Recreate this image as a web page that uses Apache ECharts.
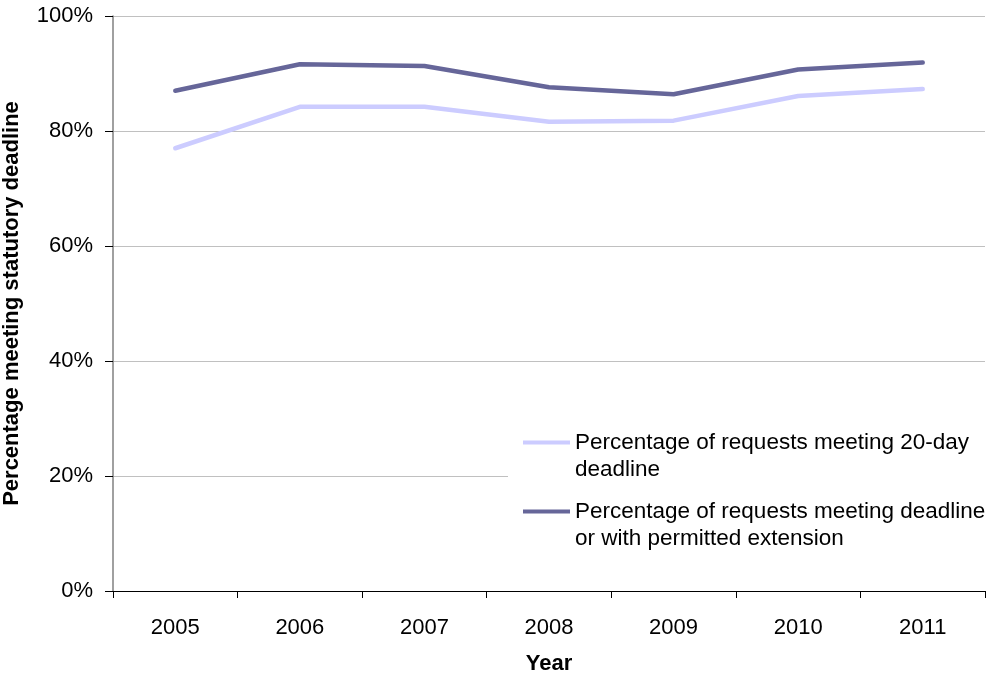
<!DOCTYPE html>
<html>
<head>
<meta charset="utf-8">
<script src="https://cdn.jsdelivr.net/npm/echarts@6/dist/echarts.min.js"></script>
<style>
  html, body { margin: 0; padding: 0; background: #fff; }
  #chart { width: 988px; height: 675px; }
</style>
</head>
<body>
<div id="chart"></div>
<script>
var years = ['2005', '2006', '2007', '2008', '2009', '2010', '2011'];
var met20Day = [77.0, 84.2, 84.2, 81.6, 81.8, 86.1, 87.3];
var metWithExtension = [87.0, 91.6, 91.3, 87.6, 86.4, 90.7, 91.9];
var yTicks = [0, 20, 40, 60, 80, 100];

var name20 = 'Percentage of requests meeting 20-day\ndeadline';
var nameExt = 'Percentage of requests meeting deadline\nor with permitted extension';

var font = 'Liberation Sans, Arial, sans-serif';
var chart = echarts.init(document.getElementById('chart'));

var option = {
  backgroundColor: '#fff',
  animation: false,
  textStyle: { fontFamily: font },
  grid: { left: 113, right: 3, top: 16, bottom: 84, outerBoundsMode: 'none' },
  legend: {
    orient: 'vertical',
    left: 508,
    top: 398,
    padding: [4, 4, 6, 15],
    backgroundColor: '#fff',
    itemWidth: 47,
    itemHeight: 4,
    itemGap: -12,
    icon: 'rect',
    // a blank first line keeps the icon level with the first line of text
    formatter: function (name) { return ' \n' + name; },
    textStyle: {
      fontFamily: font,
      fontSize: 22.5,
      color: '#000',
      lineHeight: 27
    },
    data: [name20, nameExt]
  },
  xAxis: {
    type: 'category',
    data: years,
    boundaryGap: true,
    name: 'Year',
    nameLocation: 'middle',
    nameGap: 62,
    nameTextStyle: { fontFamily: font, fontSize: 22, fontWeight: 'bold', color: '#000' },
    axisLine: { lineStyle: { color: '#000', width: 1 } },
    axisTick: { show: true, length: 7, lineStyle: { color: '#000' } },
    axisLabel: { fontFamily: font, fontSize: 22, color: '#000', margin: 26 },
    splitLine: { show: false }
  },
  yAxis: {
    type: 'value',
    min: yTicks[0],
    max: yTicks[yTicks.length - 1],
    interval: 20,
    name: 'Percentage meeting statutory deadline',
    nameLocation: 'middle',
    nameGap: 90,
    nameTextStyle: { fontFamily: font, fontSize: 22, fontWeight: 'bold', color: '#000' },
    axisLine: { show: true, lineStyle: { color: '#808080', width: 1.5 } },
    axisTick: { show: true, length: 8, lineStyle: { color: '#000' } },
    axisLabel: {
      fontFamily: font, fontSize: 22, color: '#000', margin: 20,
      formatter: function (v) { return v + '%'; }
    },
    splitLine: { show: true, lineStyle: { color: '#c0c0c0', width: 1 } }
  },
  series: [
    {
      name: name20,
      type: 'line',
      data: met20Day,
      symbol: 'none',
      color: '#ccccff',
      lineStyle: { color: '#ccccff', width: 4.5, cap: 'round' }
    },
    {
      name: nameExt,
      type: 'line',
      data: metWithExtension,
      symbol: 'none',
      color: '#666699',
      lineStyle: { color: '#666699', width: 4.5, cap: 'round' }
    }
  ]
};

chart.setOption(option);
</script>
</body>
</html>
